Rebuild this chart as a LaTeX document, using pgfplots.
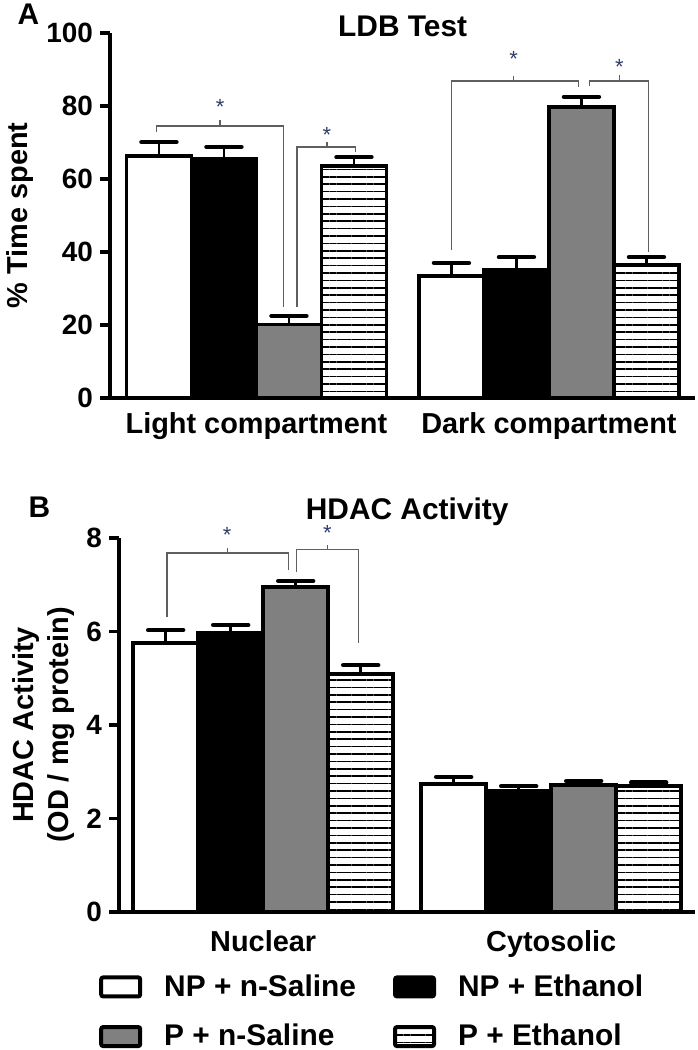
\documentclass[border=0pt]{standalone}
\usepackage{fontspec}
\setmainfont{Liberation Sans}
\usepackage{pgfplots}
\pgfplotsset{compat=1.18}
\usetikzlibrary{patterns.meta}

\definecolor{bargray}{RGB}{128,128,128}
\definecolor{brk}{RGB}{95,95,95}
\definecolor{starc}{RGB}{50,60,110}

\pgfplotsset{
 panel/.style={
  scale only axis,
  axis lines=left,
  axis line style={-, line width=2.2bp},
  ybar=0pt, bar width=32.5bp,
  xmin=-0.5, xmax=1.5,
  xtick={0,1},
  major x tick style={draw=none},
  ytick pos=left, tick align=outside,
  major tick length=5bp,
  every tick/.style={line width=1.6bp, black},
  /pgf/number format/assume math mode=true,
  yticklabel style={font=\fontsize{14}{14}\selectfont\bfseries, inner sep=0pt, xshift=-3.5bp},
  xticklabel style={font=\fontsize{14.5}{14.5}\selectfont\bfseries, inner sep=0pt},
  ylabel style={font=\fontsize{14.5}{17.5}\selectfont\bfseries},
  every axis title shift=0pt,
  title style={font=\fontsize{15}{15}\selectfont\bfseries, inner sep=0pt, text depth=0pt},
  clip=false,
  error bars/y dir=plus, error bars/y explicit,
  error bars/error mark=|,
  error bars/error bar style={line width=1.3bp, black},
  error bars/error mark options={line width=2.2bp, mark size=8.75bp, black, line cap=round},
 },
 sw/.style={draw=black, line width=1.8bp, fill=white},
 sb/.style={draw=black, line width=1.8bp, fill=black},
 sg/.style={draw=black, line width=1.8bp, fill=bargray},
 ss/.style={draw=black, line width=1.8bp, pattern={Lines[angle=0,distance=3.7bp,line width=0.8bp]}, pattern color=black},
}

\begin{document}
\begin{tikzpicture}
\path (0,0) rectangle (346bp,525bp);
\node[anchor=base west, font=\fontsize{15}{15}\selectfont\bfseries, inner sep=0pt] at (6bp,512.5bp) {A};
\node[anchor=base west, font=\fontsize{15}{15}\selectfont\bfseries, inner sep=0pt] at (11.5bp,266bp) {B};

% Panel A
\begin{axis}[panel,
  at={(52.5bp,326bp)}, anchor=south west,
  width=292.5bp, height=182.5bp,
  ymin=0, ymax=100, ytick={0,20,40,60,80,100},
  xticklabels={Light compartment, Dark compartment},
  xticklabel style={yshift=-2bp},
  ylabel={\% Time spent},
  ylabel style={at={(axis description cs:-0.154,0.5)}, anchor=center},
  title={LDB Test},
  title style={at={(axis description cs:0.5,1)}, anchor=base, yshift=-2bp},
]
\addplot[sw] coordinates {(0,66.3) +- (0,3.8) (1,33.4) +- (0,3.6)};
\addplot[sb] coordinates {(0,65.5) +- (0,3.3) (1,35.1) +- (0,3.5)};
\addplot[sg] coordinates {(0,20.1) +- (0,2.4) (1,79.7) +- (0,2.8)};
\addplot[ss] coordinates {(0,63.6) +- (0,2.4) (1,36.4) +- (0,2.2)};
% significance brackets
\draw[brk, line width=0.7bp] (axis cs:-0.341,72.9) -- (axis cs:-0.341,74.5) -- (axis cs:0.093,74.5) -- (axis cs:0.093,24.9);
\draw[brk, line width=0.7bp] (axis cs:-0.124,74.5) -- (axis cs:-0.124,76.2);
\node[starc, font=\fontsize{11}{11}\selectfont, yshift=-2.5bp] at (axis cs:-0.124,81.1) {*};
\draw[brk, line width=0.7bp] (axis cs:0.138,24.9) -- (axis cs:0.138,68.8) -- (axis cs:0.338,68.8) -- (axis cs:0.338,67.4);
\draw[brk, line width=0.7bp] (axis cs:0.241,68.8) -- (axis cs:0.241,70.1);
\node[starc, font=\fontsize{11}{11}\selectfont, yshift=-2.5bp] at (axis cs:0.241,73.4) {*};
\draw[brk, line width=0.7bp] (axis cs:0.666,40.5) -- (axis cs:0.666,86.8) -- (axis cs:1.100,86.8) -- (axis cs:1.100,85.2);
\draw[brk, line width=0.7bp] (axis cs:0.879,86.8) -- (axis cs:0.879,88.2);
\node[starc, font=\fontsize{11}{11}\selectfont, yshift=-2.5bp] at (axis cs:0.879,94.2) {*};
\draw[brk, line width=0.7bp] (axis cs:1.138,85.4) -- (axis cs:1.138,86.8) -- (axis cs:1.341,86.8) -- (axis cs:1.341,40.0);
\draw[brk, line width=0.7bp] (axis cs:1.241,86.8) -- (axis cs:1.241,88.5);
\node[starc, font=\fontsize{11}{11}\selectfont, yshift=-2.5bp] at (axis cs:1.241,92.1) {*};
\end{axis}

% Panel B
\begin{axis}[panel,
  at={(57bp,69bp)}, anchor=south west,
  width=288bp, height=187bp,
  ymin=0, ymax=8, ytick={0,2,4,6,8},
  xticklabels={Nuclear, Cytosolic},
  xticklabel style={yshift=-4bp},
  ylabel={HDAC Activity\\(OD / mg protein)},
  ylabel style={align=center, at={(axis description cs:-0.132,0.5)}, anchor=center},
  title={HDAC Activity},
  title style={at={(axis description cs:0.5,1)}, anchor=base, yshift=9.5bp},
  legend style={at={(axis description cs:-0.0347,-0.1674)}, anchor=north west,
    draw=none, fill=none, inner sep=0pt, outer sep=0pt,
    font=\fontsize{15}{15}\selectfont\bfseries,
    row sep=12.5bp,
    nodes={inner sep=0pt},
    /tikz/every odd column/.append style={column sep=11bp},
    /tikz/every even column/.append style={column sep=18.5bp}},
  legend columns=2,
  legend cell align=left,
  legend image code/.code={\draw[#1, line width=2bp, rounded corners=1bp] (0bp,-4.75bp) rectangle (19.5bp,4.75bp);},
]
\addplot[sw] coordinates {(0,5.75) +- (0,0.28) (1,2.74) +- (0,0.15)};
\addplot[sb] coordinates {(0,5.97) +- (0,0.17) (1,2.59) +- (0,0.10)};
\addplot[sg] coordinates {(0,6.95) +- (0,0.13) (1,2.72) +- (0,0.08)};
\addplot[ss] coordinates {(0,5.09) +- (0,0.19) (1,2.70) +- (0,0.07)};
\legend{NP + n-Saline, NP + Ethanol, P + n-Saline, P + Ethanol}
\draw[brk, line width=0.7bp] (axis cs:-0.334,6.31) -- (axis cs:-0.334,7.68) -- (axis cs:0.087,7.68) -- (axis cs:0.087,7.32);
\draw[brk, line width=0.7bp] (axis cs:-0.125,7.68) -- (axis cs:-0.125,7.79);
\node[starc, font=\fontsize{11}{11}\selectfont, yshift=-2.5bp] at (axis cs:-0.125,8.17) {*};
\draw[brk, line width=0.7bp] (axis cs:0.115,7.27) -- (axis cs:0.115,7.76) -- (axis cs:0.331,7.76) -- (axis cs:0.331,5.75);
\draw[brk, line width=0.7bp] (axis cs:0.223,7.76) -- (axis cs:0.223,7.85);
\node[starc, font=\fontsize{11}{11}\selectfont, yshift=-2.5bp] at (axis cs:0.223,8.21) {*};
\end{axis}
\end{tikzpicture}
\end{document}
